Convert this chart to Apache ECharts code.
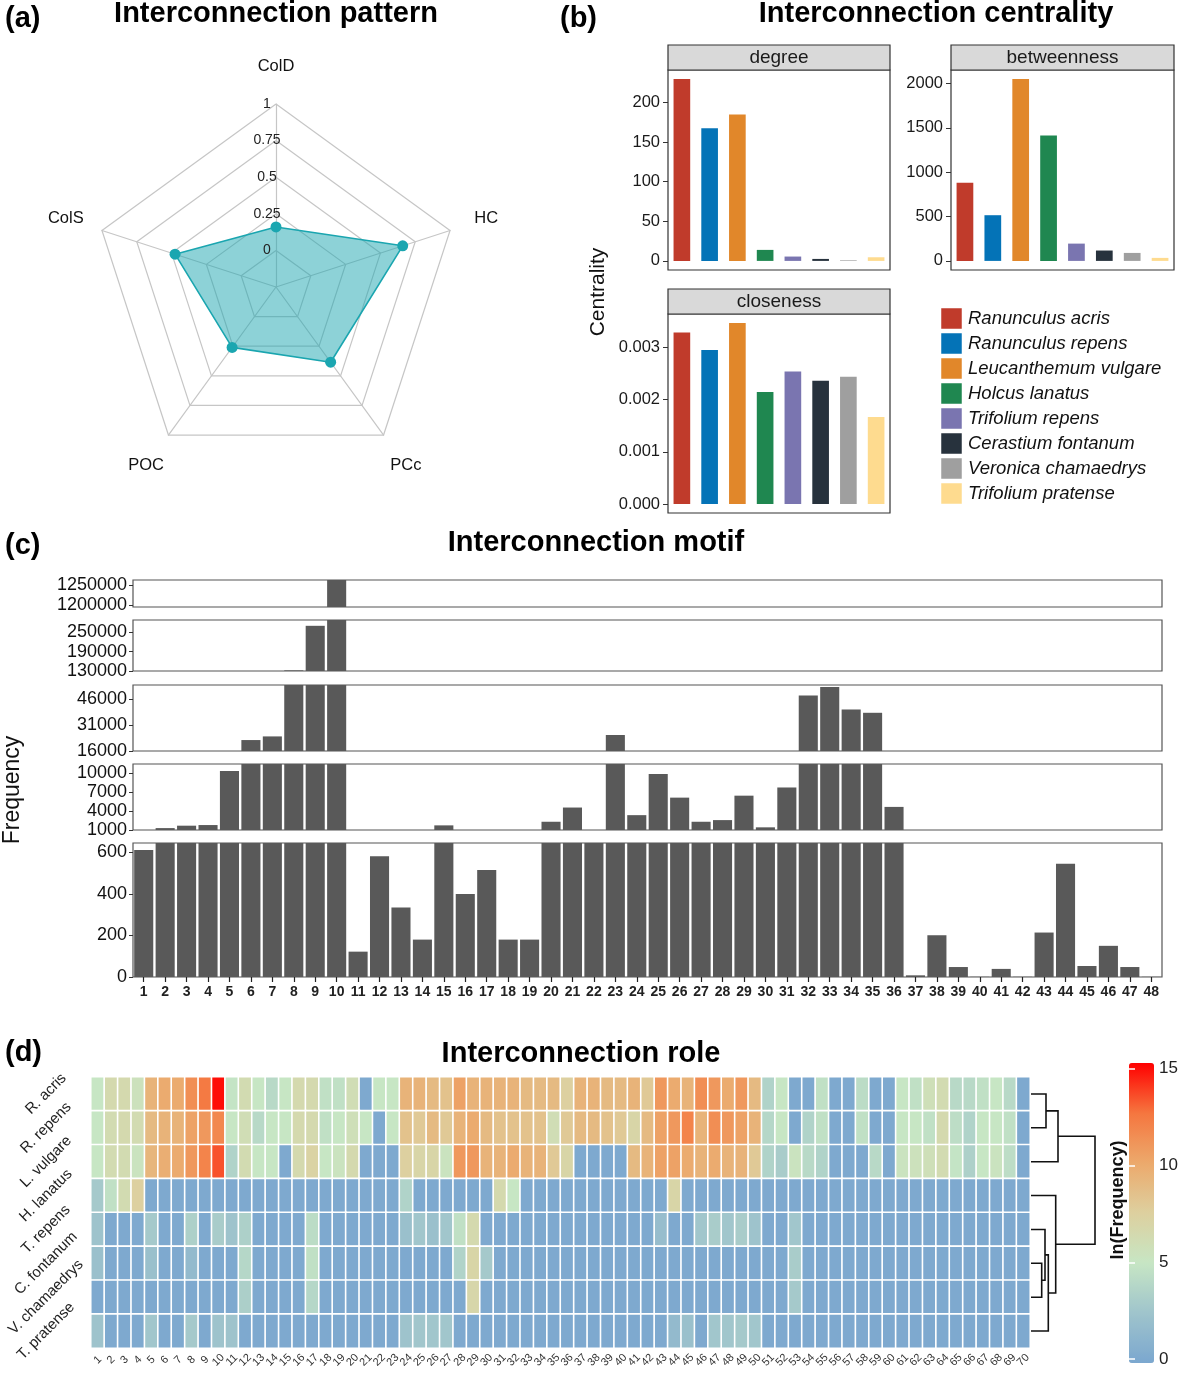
<!DOCTYPE html>
<html>
<head>
<meta charset="utf-8">
<script src="https://cdn.jsdelivr.net/npm/echarts@6.0.0/dist/echarts.min.js"></script>
<style>
html,body{margin:0;padding:0;background:#ffffff;}
#chart{width:1181px;height:1375px;}
</style>
</head>
<body>
<div id="chart"></div>
<script>
// ================= DATA =================
// (a) radar
const radarAxes = ['ColD', 'ColS', 'POC', 'PCc', 'HC'];
const radarValues = [0.16, 0.475, 0.26, 0.385, 0.66];
const radarTicks = [0, 0.25, 0.5, 0.75, 1];
const radarMin = -0.25;
const radarMax = 1;

// (b) centrality
const species = ['Ranunculus acris', 'Ranunculus repens', 'Leucanthemum vulgare', 'Holcus lanatus',
  'Trifolium repens', 'Cerastium fontanum', 'Veronica chamaedrys', 'Trifolium pratense'];
const speciesColors = ['#c03b2b', '#0473b7', '#e1872a', '#1f8750', '#7a75b0', '#27323d', '#9f9f9f', '#fedb8f'];
const degree = [229.5, 167.6, 184.8, 13.9, 5.5, 2.5, 0.8, 4.6];
const betweenness = [880, 515, 2049, 1414, 195, 117, 90, 34];
const closeness = [0.00329, 0.002955, 0.00347, 0.002147, 0.00254, 0.002365, 0.00244, 0.001668];
const degreeTicks = [0, 50, 100, 150, 200];
const betweennessTicks = [0, 500, 1000, 1500, 2000];
const closenessTicks = [0, 0.001, 0.002, 0.003];

// (c) motif frequency (broken axis)
const motifIds = ['1','2','3','4','5','6','7','8','9','10','11','12','13','14','15','16','17','18','19','20',
  '21','22','23','24','25','26','27','28','29','30','31','32','33','34','35','36','37','38','39','40',
  '41','42','43','44','45','46','47','48'];
const motifFreq = [611, 1300, 1680, 1780, 10300, 22300, 24400, 132000, 270000, 1270000,
  122, 581, 335, 180, 1730, 399, 515, 180, 180, 2300,
  4540, 850, 25200, 3340, 9840, 6100, 2300, 2560, 6410, 1420,
  7700, 47900, 52800, 39900, 38000, 4640, 8, 201, 48, 1,
  39, 1, 214, 545, 53, 150, 48, 1];
// axis segments, bottom to top
const motifSegmentRanges = [[0, 645], [1000, 11400], [16000, 54000], [130000, 288000], [1195000, 1262000]];
const motifSegmentTicks = [[0, 200, 400, 600], [1000, 4000, 7000, 10000], [16000, 31000, 46000],
  [130000, 190000, 250000], [1200000, 1250000]];

// (d) role heatmap, ln(Frequency)
const roleRows = ['R. acris', 'R. repens', 'L. vulgare', 'H. lanatus', 'T. repens', 'C. fontanum', 'V. chamaedrys', 'T. pratense'];
const roleCols = ['1','2','3','4','5','6','7','8','9','10','11','12','13','14','15','16','17','18','19','20',
  '21','22','23','24','25','26','27','28','29','30','31','32','33','34','35','36','37','38','39','40',
  '41','42','43','44','45','46','47','48','49','50','51','52','53','54','55','56','57','58','59','60',
  '61','62','63','64','65','66','67','68','69','70'];
const roleRAcris = [5,6.5,6.5,5.5,9.5,10,10,11.5,12.5,15, 4.8,6.3,5,4,5,6.5,6.5,4.5,4.5,6,
  0,5,5,9.5,9.5,9,8.5,10.5,9.5,9.5, 9.5,9.5,9,9,9,7.5,9.5,9.5,9,9,
  9.5,8,11,10,9.5,11.5,11,10,11,9, 3.5,5,0,0,4.5,0,0,4.2,0,0, 5,4.5,5.8,6.3,4,4,4.5,5,4,0];
const roleRRepens = [5,6.3,6.5,6.3,9,9.5,9.5,10.5,11,11.8, 5,6,4,5,5,6.5,6.5,4.5,5,5.8,
  5,0,5,8.5,8,9,8,9.5,10,9, 8.5,8.5,8.5,8.5,6,8,9,9,8.5,8,
  7,9,10.5,11,12,9.5,11.5,11,10.5,9.5, 3.8,5,0,3.5,4.5,0,0,4.5,0,0, 5,5,4.5,6.5,4.3,3.5,5,5,4.5,0];
const roleLVulgare = [5,6.3,6.3,5.3,9.3,9.8,10,11,12,13.5, 3.5,6.3,5,5,0,6.5,7.2,5,5.3,6.5,
  0,0,0,7.5,7,7,5.3,11,11,9.5, 9.5,10,9.5,9.5,8,7,0,0,0,0,
  9,9.5,10.5,10.5,10,9.5,10,9.5,9.5,8, 3.5,3,5.3,4,3.5,0,0,0,4,0, 5.3,5.5,5.8,6.3,4.8,3.3,5,5.3,4.3,0];
const roleHLanatus = [2.8,4.5,6.3,7.5,0,0,0,0,0,0, 0,0,0,0,0,0,0,0,0,0,
  0,0,0,3.5,0,0,0,0,0,0, 6.5,5,0,0,0,0,0,0,0,0,
  0,0,0,7,0,0,0,0,0,0, 0,0,0,0,0,0,0,0,0,0, 0,0,0,0,0,0,0,0,0,0];
const roleTRepens = [2.3,0,0,0,2.8,0,0,3.3,0,3, 2.3,3.3,0,0,0,0,4.2,0,0,0,
  0,0,0,2,2.5,2,2.5,4.5,6.5,0, 0,0,0,0,0,0,0,0,0,0,
  0,0,1.8,0,0,2.5,3,2.5,3,2.3, 0,0,2.5,0,0,0,0,0,0,0, 0,0,0,0,0,0,0,0,0,0];
const roleCFontanum = [2,0,0,0,2,0,0,1.5,0,0, 0,3.8,0,0,0,0,4.5,0,0,0,
  0,0,0,0,0,0,0,3.5,7,2.8, 0,0,0,0,0,0,0,0,0,0,
  0,0,0,0,0,0,0,0,0,0, 0,0,3,0,0,0,0,0,0,0, 0,0,0,0,0,0,0,0,0,0];
const roleVChamaedrys = [0,0,0,0,0,0,0,0,0,0, 0,3.2,0,0,0,0,3.8,0,0,0,
  0,0,0,0,0,0,0,0,6.8,0, 0,0,0,0,0,0,0,0,0,0,
  0,0,0,0,0,0,0,0,0,0, 0,0,2.8,0,0,0,0,0,0,0, 0,0,0,0,0,0,0,0,0,0];
const roleTPratense = [2.3,0,0,0,2.5,0,0,2.8,0,2.3, 2.3,0,0,0,0,0,0,0,0,0,
  0,0,0,2.3,2.5,2.5,2.5,0,0,0, 0,0,0,0,0,0,0,0,0,0,
  0,0,0,1.5,2,0,2.5,2.5,2.8,2.5, 0,0,0,0,0,0,0,0,0,0, 0,0,0,0,0,0,0,0,0,0];
const roleMatrix = [roleRAcris, roleRRepens, roleLVulgare, roleHLanatus, roleTRepens, roleCFontanum, roleVChamaedrys, roleTPratense];
const colorbarTicks = [0, 5, 10, 15];
// dendrogram merges: [nodeA, nodeB, height]; leaves 0..7 are rows, merge k creates node 8+k
const dendroMerges = [[0, 1, 15], [8, 2, 27], [5, 6, 10.7], [4, 10, 14], [11, 7, 17.3], [3, 12, 24.7], [9, 13, 64]];

// ================= LAYOUT / STYLE =================
const FONT = '"Liberation Sans", Arial, Helvetica, sans-serif';
const grid = [], xAxis = [], yAxis = [], series = [], graphic = [];

function addText(text, x, y, o) {
  o = o || {};
  graphic.push({
    type: 'text', x: x, y: y, rotation: o.rotation || 0, silent: true, z: 100,
    style: {
      text: text, x: 0, y: 0, fill: o.color || '#000',
      fontSize: o.size || 16, fontWeight: o.weight || 'normal', fontStyle: o.style || 'normal', fontFamily: FONT,
      align: o.align || 'center', verticalAlign: o.valign || 'middle',
      textAlign: o.align || 'center', textVerticalAlign: o.valign || 'middle'
    }
  });
}

// ---- titles ----
addText('(a)', 5, 19, {size: 29, weight: 'bold', align: 'left'});
addText('Interconnection pattern', 276, 14, {size: 29, weight: 'bold'});
addText('(b)', 560, 19, {size: 29, weight: 'bold', align: 'left'});
addText('Interconnection centrality', 936, 14, {size: 29, weight: 'bold'});
addText('(c)', 5, 546, {size: 29, weight: 'bold', align: 'left'});
addText('Interconnection motif', 596, 543, {size: 29, weight: 'bold'});
addText('(d)', 5, 1053, {size: 29, weight: 'bold', align: 'left'});
addText('Interconnection role', 581, 1054, {size: 29, weight: 'bold'});

// ---- (a) radar ----
const radarCenter = [276, 287];
const radarRadius = 183;
const radarNameRadius = 221;
radarTicks.forEach(function (t) {
  addText(String(t), radarCenter[0] - 9, radarCenter[1] - radarRadius * (t - radarMin) / (radarMax - radarMin),
    {size: 14, color: '#222'});
});
radarAxes.forEach(function (n, i) {
  const a = (90 + 360 / radarAxes.length * i) * Math.PI / 180;
  addText(n, radarCenter[0] + radarNameRadius * Math.cos(a), radarCenter[1] - radarNameRadius * Math.sin(a),
    {size: 16.5, color: '#111'});
});
series.push({
  type: 'radar', radarIndex: 0, symbol: 'circle', symbolSize: 11, silent: true,
  lineStyle: {color: '#1ba6b0', width: 1.6},
  itemStyle: {color: '#1ba6b0'},
  areaStyle: {color: '#1ba6b0', opacity: 0.5},
  data: [{value: radarValues, name: 'pattern'}]
});

// ---- (b) centrality ----
const bLayout = [
  {left: 668, top: 70, width: 222, height: 200},
  {left: 951, top: 70, width: 223, height: 200},
  {left: 668, top: 314, width: 222, height: 199}
];
const bSets = [
  {name: 'degree', values: degree, ticks: degreeTicks, fmt: function (v) { return String(v); }},
  {name: 'betweenness', values: betweenness, ticks: betweennessTicks, fmt: function (v) { return String(v); }},
  {name: 'closeness', values: closeness, ticks: closenessTicks, fmt: function (v) { return v.toFixed(3); }}
];
bSets.forEach(function (s, i) {
  const L = bLayout[i];
  const gi = grid.length;
  grid.push({left: L.left, top: L.top, width: L.width, height: L.height, show: true,
    borderColor: '#333', borderWidth: 1.2, backgroundColor: '#fff'});
  xAxis.push({gridIndex: gi, type: 'category', data: species, axisLine: {show: false},
    axisTick: {show: false}, axisLabel: {show: false}, splitLine: {show: false}});
  const mx = Math.max.apply(null, s.values);
  yAxis.push({gridIndex: gi, type: 'value', min: -0.05 * mx, max: 1.05 * mx,
    splitLine: {show: false}, axisLine: {show: false},
    axisTick: {show: true, length: 5, lineStyle: {color: '#333'}, customValues: s.ticks},
    axisLabel: {fontSize: 16.5, color: '#1a1a1a', margin: 8, customValues: s.ticks, formatter: s.fmt, fontFamily: FONT}});
  series.push({type: 'bar', xAxisIndex: gi, yAxisIndex: gi, barWidth: '60%', silent: true,
    data: s.values.map(function (v, j) { return {value: v, itemStyle: {color: speciesColors[j]}}; })});
  graphic.push({type: 'rect', silent: true, z: 90,
    shape: {x: L.left, y: L.top - 25, width: L.width, height: 25},
    style: {fill: '#d9d9d9', stroke: '#333', lineWidth: 1.2}});
  addText(s.name, L.left + L.width / 2, L.top - 12.5, {size: 19, color: '#1a1a1a'});
});
addText('Centrality', 598, 292, {size: 21, rotation: Math.PI / 2, color: '#111'});
species.forEach(function (s, i) {
  graphic.push({type: 'rect', silent: true, z: 90,
    shape: {x: 941, y: 308 + 25 * i, width: 21, height: 21},
    style: {fill: speciesColors[i], stroke: '#fff', lineWidth: 0.5}});
  addText(s, 968, 319 + 25 * i, {size: 18.5, style: 'italic', align: 'left', color: '#111'});
});

// ---- (c) motif (broken y axis) ----
const motifBoxes = [ // same order as segments (bottom → top)
  {top: 843, height: 134},
  {top: 764, height: 66},
  {top: 685, height: 66},
  {top: 620, height: 51},
  {top: 580, height: 27}
];
motifSegmentRanges.forEach(function (r, k) {
  const B = motifBoxes[k];
  const gi = grid.length;
  grid.push({left: 133, width: 1029, top: B.top, height: B.height, show: true,
    borderColor: '#555', borderWidth: 1.2, backgroundColor: '#fff'});
  const bottom = (k === 0);
  xAxis.push({gridIndex: gi, type: 'category', data: motifIds,
    axisLine: {show: false},
    axisTick: {show: bottom, alignWithLabel: true, length: 5, lineStyle: {color: '#222', width: 1.2}},
    axisLabel: {show: bottom, interval: 0, fontSize: 14, fontWeight: 'bold', color: '#222', margin: 8, fontFamily: FONT},
    splitLine: {show: false}});
  yAxis.push({gridIndex: gi, type: 'value', min: r[0], max: r[1],
    splitLine: {show: false}, axisLine: {show: false},
    axisTick: {show: true, length: 4, lineStyle: {color: '#333'}, customValues: motifSegmentTicks[k]},
    axisLabel: {fontSize: 18, color: '#111', margin: 6, customValues: motifSegmentTicks[k], fontFamily: FONT,
      formatter: function (v) { return String(v); }}});
  series.push({type: 'bar', xAxisIndex: gi, yAxisIndex: gi, barCategoryGap: '11%', clip: true, silent: true,
    itemStyle: {color: '#595959'}, data: motifFreq});
});
addText('Frequency', 13, 790, {size: 23, rotation: Math.PI / 2, color: '#111'});

// ---- (d) heatmap ----
const heatData = [];
roleMatrix.forEach(function (row, r) {
  row.forEach(function (v, c) { heatData.push([c, r, v]); });
});
const hx = grid.length;
grid.push({left: 91, top: 1077, width: 939, height: 271});
xAxis.push({gridIndex: hx, type: 'category', data: roleCols, axisLine: {show: false}, axisTick: {show: false},
  splitArea: {show: false},
  axisLabel: {interval: 0, rotate: 45, align: 'center', verticalAlign: 'middle', margin: 12, fontSize: 11, color: '#333', fontFamily: FONT}});
yAxis.push({gridIndex: hx, type: 'category', data: roleRows, inverse: true, axisLine: {show: false}, axisTick: {show: false},
  axisLabel: {interval: 0, rotate: 45, align: 'center', verticalAlign: 'middle', margin: 45, fontSize: 15, color: '#222', fontFamily: FONT}});
const heatIdx = series.length;
series.push({type: 'heatmap', xAxisIndex: hx, yAxisIndex: hx, data: heatData, silent: true, progressive: 0,
  itemStyle: {borderColor: '#fff', borderWidth: 1.6}, emphasis: {disabled: true}});

// dendrogram
const dPos = roleRows.map(function (_, i) { return i; });
const dH = roleRows.map(function () { return 0; });
const dendroLines = [];
dendroMerges.forEach(function (m) {
  const a = m[0], b = m[1], h = m[2];
  dendroLines.push({coords: [[dH[a], dPos[a]], [h, dPos[a]], [h, dPos[b]], [dH[b], dPos[b]]]});
  dPos.push((dPos[a] + dPos[b]) / 2);
  dH.push(h);
});
const dx = grid.length;
grid.push({left: 1031, top: 1077, width: 66, height: 271});
xAxis.push({gridIndex: dx, type: 'value', min: 0, max: 66, show: false});
yAxis.push({gridIndex: dx, type: 'value', min: -0.5, max: 7.5, inverse: true, show: false});
series.push({type: 'lines', coordinateSystem: 'cartesian2d', xAxisIndex: dx, yAxisIndex: dx, polyline: true,
  silent: true, lineStyle: {color: '#111', width: 1.6, opacity: 1}, data: dendroLines});

// colorbar axis
const cb = grid.length;
grid.push({left: 1129, top: 1063, width: 25, height: 300});
xAxis.push({gridIndex: cb, type: 'value', min: 0, max: 1, show: false});
yAxis.push({gridIndex: cb, type: 'value', position: 'right', min: -0.2, max: 15.3, z: 10,
  splitLine: {show: false}, axisLine: {show: false},
  axisTick: {show: true, inside: true, length: 6, lineStyle: {color: '#fff', width: 1.5}, customValues: colorbarTicks},
  axisLabel: {customValues: colorbarTicks, fontSize: 17, color: '#222', margin: 6, fontFamily: FONT}});
yAxis.push({gridIndex: cb, type: 'value', position: 'left', min: -0.2, max: 15.3, z: 10,
  splitLine: {show: false}, axisLine: {show: false},
  axisTick: {show: true, inside: true, length: 6, lineStyle: {color: '#fff', width: 1.5}, customValues: colorbarTicks},
  axisLabel: {show: false}});
addText('ln(Frequency)', 1118, 1200, {size: 18, weight: 'bold', rotation: Math.PI / 2, color: '#111'});

const option = {
  animation: false,
  backgroundColor: '#ffffff',
  textStyle: {fontFamily: FONT},
  radar: {
    center: radarCenter, radius: radarRadius, startAngle: 90, splitNumber: 5, shape: 'polygon',
    indicator: radarAxes.map(function (n) { return {name: n, min: radarMin, max: radarMax}; }),
    axisName: {show: false},
    splitLine: {lineStyle: {color: '#c6c6c6', width: 1.2}},
    splitArea: {show: false},
    axisLine: {lineStyle: {color: '#c6c6c6', width: 1.2}},
    axisTick: {show: false},
    axisLabel: {show: false}
  },
  visualMap: {
    type: 'continuous', min: -0.2, max: 15.3, seriesIndex: [heatIdx], calculable: false,
    orient: 'vertical', left: 1129, top: 1063, itemWidth: 25, itemHeight: 300, padding: 0,
    hoverLink: false,
    inRange: {color: ['#7ba7cf', '#9fc4cc', '#c7e6c4', '#ddd09f', '#eca96c', '#f5763f', '#ff0000']}
  },
  grid: grid, xAxis: xAxis, yAxis: yAxis, series: series, graphic: graphic
};

const chart = echarts.init(document.getElementById('chart'), null, {renderer: 'canvas', width: 1181, height: 1375});
chart.setOption(option);
</script>
</body>
</html>
